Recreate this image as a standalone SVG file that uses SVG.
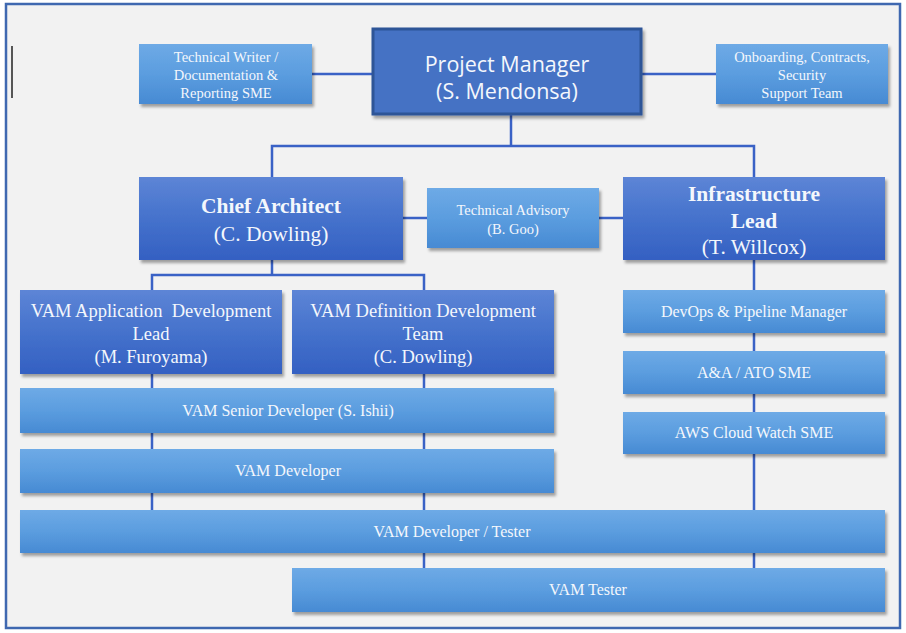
<svg xmlns="http://www.w3.org/2000/svg" width="906" height="633" viewBox="0 0 906 633">
<defs>
<linearGradient id="gDark" x1="0" y1="0" x2="0" y2="1">
<stop offset="0" stop-color="#5d85d6"/>
<stop offset="0.5" stop-color="#4572cc"/>
<stop offset="1" stop-color="#3460c2"/>
</linearGradient>
<linearGradient id="gLight" x1="0" y1="0" x2="0" y2="1">
<stop offset="0" stop-color="#6eaae6"/>
<stop offset="0.5" stop-color="#5b9ddf"/>
<stop offset="1" stop-color="#478ad3"/>
</linearGradient>
<filter id="sh" x="-5%" y="-5%" width="112%" height="125%">
<feDropShadow dx="2" dy="3" stdDeviation="1.5" flood-color="#000" flood-opacity="0.35"/>
</filter>
</defs>
<style>
.dark{fill:url(#gDark);filter:url(#sh)}
.light{fill:url(#gLight);filter:url(#sh)}
.pm{fill:#4472c4;stroke:#2f5597;stroke-width:3;filter:url(#sh)}
.t{font-family:"Liberation Serif","Times New Roman",serif;fill:#f4f7fc;text-anchor:middle}
.s{font-size:14.5px}
.m{font-size:16px}
.l{font-size:18.5px}
.h{font-size:21.5px}
.b{font-weight:bold}
.sans{font-family:"Open Sans","Liberation Sans",sans-serif;fill:#f4f7fc;text-anchor:middle;font-size:21.5px}
.c{stroke:#3a62c6;stroke-width:2.5;fill:none}
</style>
<rect x="6" y="4" width="894" height="624" fill="#f2f2f2" stroke="#3f68b0" stroke-width="2.5"/>
<line x1="12" y1="46" x2="12" y2="98" stroke="#222" stroke-width="1.5"/>
<g id="connectors">
<line class="c" x1="312" y1="74" x2="372" y2="74"/>
<line class="c" x1="642" y1="74" x2="716" y2="74"/>
<polyline class="c" points="511,114 511,146"/>
<polyline class="c" points="272,177 272,146 754,146 754,177"/>
<line class="c" x1="403" y1="218" x2="427" y2="218"/>
<line class="c" x1="599" y1="218" x2="623" y2="218"/>
<polyline class="c" points="272,260 272,275"/>
<polyline class="c" points="152,290 152,275 424,275 424,290"/>
<line class="c" x1="152" y1="374" x2="152" y2="510"/>
<line class="c" x1="424" y1="374" x2="424" y2="568"/>
<line class="c" x1="754" y1="260" x2="754" y2="568"/>
</g>
<g id="tech-writer">
<rect class="light" x="139" y="44" width="173" height="60"/>
<text class="t s" x="226" y="62">Technical Writer /</text>
<text class="t s" x="226" y="80">Documentation &amp;</text>
<text class="t s" x="226" y="98">Reporting SME</text>
</g>
<g id="project-manager">
<rect class="pm" x="373" y="29" width="268" height="85"/>
<text class="sans" x="507" y="72">Project Manager</text>
<text class="sans" x="507" y="99">(S. Mendonsa)</text>
</g>
<g id="onboarding">
<rect class="light" x="716" y="44" width="172" height="60"/>
<text class="t s" x="802" y="62">Onboarding, Contracts,</text>
<text class="t s" x="802" y="80">Security</text>
<text class="t s" x="802" y="98">Support Team</text>
</g>
<g id="chief-architect">
<rect class="dark" x="139" y="177" width="264" height="83"/>
<text class="t h b" x="271" y="213">Chief Architect</text>
<text class="t h" x="271" y="241">(C. Dowling)</text>
</g>
<g id="technical-advisory">
<rect class="light" x="427" y="188" width="172" height="60"/>
<text class="t s" x="513" y="215">Technical Advisory</text>
<text class="t s" x="513" y="234">(B. Goo)</text>
</g>
<g id="infrastructure-lead">
<rect class="dark" x="623" y="177" width="262" height="83"/>
<text class="t h b" x="754" y="201">Infrastructure</text>
<text class="t h b" x="754" y="228">Lead</text>
<text class="t h" x="754" y="254">(T. Willcox)</text>
</g>
<g id="app-dev-lead">
<rect class="dark" x="20" y="290" width="262" height="84"/>
<text class="t l" x="151" y="317" xml:space="preserve">VAM Application  Development</text>
<text class="t l" x="151" y="340">Lead</text>
<text class="t l" x="151" y="363">(M. Furoyama)</text>
</g>
<g id="def-dev-team">
<rect class="dark" x="292" y="290" width="262" height="84"/>
<text class="t l" x="423" y="317">VAM Definition Development</text>
<text class="t l" x="423" y="340">Team</text>
<text class="t l" x="423" y="363">(C. Dowling)</text>
</g>
<g id="senior-developer">
<rect class="light" x="20" y="388" width="534" height="45"/>
<text class="t m" x="288" y="416">VAM Senior Developer (S. Ishii)</text>
</g>
<g id="developer">
<rect class="light" x="20" y="449" width="534" height="44"/>
<text class="t m" x="288" y="476">VAM Developer</text>
</g>
<g id="developer-tester">
<rect class="light" x="20" y="510" width="865" height="43"/>
<text class="t m" x="452" y="537">VAM Developer / Tester</text>
</g>
<g id="tester">
<rect class="light" x="292" y="568" width="593" height="44"/>
<text class="t m" x="588" y="595">VAM Tester</text>
</g>
<g id="devops">
<rect class="light" x="623" y="290" width="262" height="43"/>
<text class="t m" x="754" y="317">DevOps &amp; Pipeline Manager</text>
</g>
<g id="ato-sme">
<rect class="light" x="623" y="351" width="262" height="43"/>
<text class="t m" x="754" y="378">A&amp;A / ATO SME</text>
</g>
<g id="aws-sme">
<rect class="light" x="623" y="412" width="262" height="42"/>
<text class="t m" x="754" y="438">AWS Cloud Watch SME</text>
</g>
</svg>
